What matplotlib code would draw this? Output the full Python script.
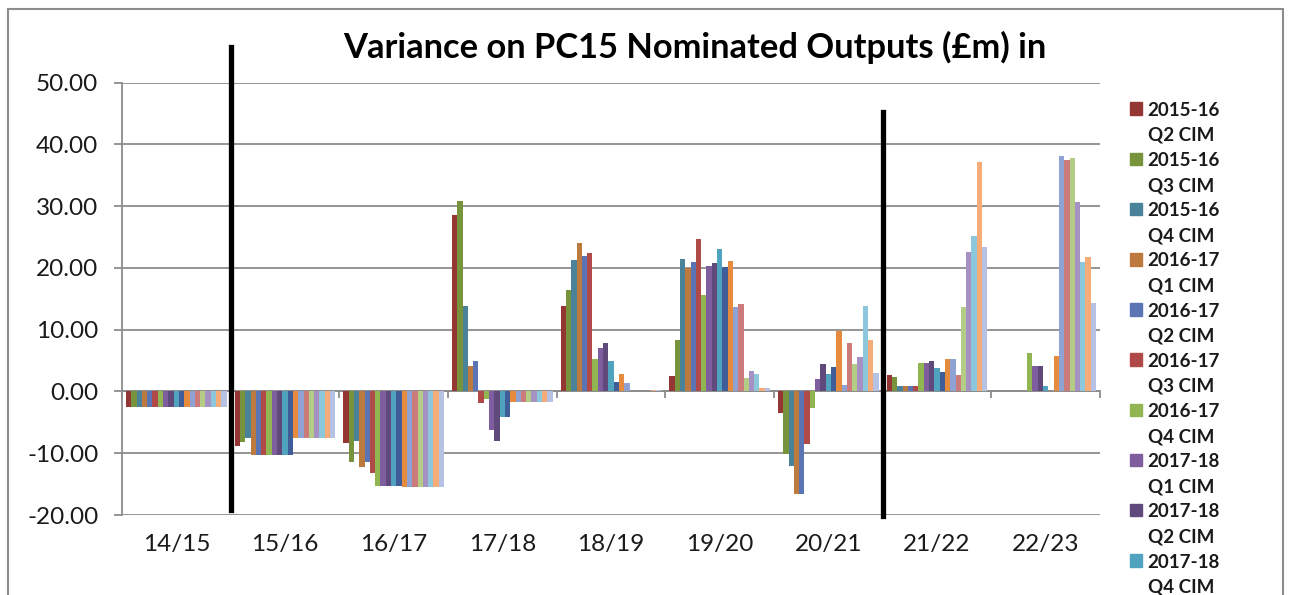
import numpy as np
import matplotlib
matplotlib.use("Agg")
import matplotlib.pyplot as plt
from matplotlib.patches import Rectangle, Patch
from matplotlib.legend_handler import HandlerPatch

plt.rcParams["font.family"] = ["Lato", "DejaVu Sans"]

categories = ["14/15", "15/16", "16/17", "17/18", "18/19", "19/20", "20/21", "21/22", "22/23"]

# only the first ten series names are readable in the legend
series_names = [
    "2015-16\nQ2 CIM", "2015-16\nQ3 CIM", "2015-16\nQ4 CIM",
    "2016-17\nQ1 CIM", "2016-17\nQ2 CIM", "2016-17\nQ3 CIM", "2016-17\nQ4 CIM",
    "2017-18\nQ1 CIM", "2017-18\nQ2 CIM", "2017-18\nQ4 CIM",
    "s11", "s12", "s13", "s14", "s15", "s16", "s17", "s18", "s19",
]

colors = [
    "#943634", "#77933C", "#4A8399", "#BD7A3E", "#5B74B3", "#B04A48", "#91B551",
    "#7E5E9E", "#604A7B", "#4FA3BF", "#3E5D99", "#E68B3E", "#8FA2D4", "#CC7B7A",
    "#B3CD86", "#A592C2", "#8DC7DB", "#F5AC78", "#B6C2E3",
]

# one row per category, one column per series
values = np.array([
    [-2.6] * 19,
    [-8.9, -8.2, -7.5, -10.3, -10.3, -10.3, -10.3, -10.3, -10.3, -10.3, -10.3,
     -7.6, -7.6, -7.6, -7.6, -7.6, -7.6, -7.6, -7.6],
    [-8.4, -11.5, -8.0, -12.2, -11.5, -13.2, -15.3, -15.3, -15.3, -15.3, -15.3,
     -15.5, -15.5, -15.5, -15.5, -15.5, -15.5, -15.5, -15.5],
    [28.5, 30.9, 13.8, 4.1, 5.0, -1.9, -1.2, -6.2, -8.0, -4.1, -4.1,
     -1.7, -1.7, -1.7, -1.7, -1.7, -1.7, -1.7, -1.7],
    [13.9, 16.4, 21.2, 24.0, 22.0, 22.4, 5.3, 7.0, 7.8, 5.0, 1.6,
     2.9, 1.3, 0.1, 0.1, 0.1, 0.1, 0.2, 0.2],
    [2.5, 8.3, 21.4, 20.0, 21.0, 24.6, 15.6, 20.3, 20.8, 23.0, 20.1,
     21.1, 13.7, 14.2, 2.2, 3.3, 2.9, 0.6, 0.5],
    [-3.5, -10.2, -12.0, -16.6, -16.6, -8.5, -2.7, 2.0, 4.5, 2.9, 4.0,
     9.7, 1.0, 7.8, 4.4, 5.5, 13.9, 8.3, 3.0],
    [2.6, 2.4, 0.8, 0.8, 0.8, 0.8, 4.6, 4.6, 4.9, 3.8, 3.1,
     5.2, 5.2, 2.6, 13.6, 22.6, 25.2, 37.2, 23.4],
    [0, 0, 0, 0, 0, 0, 6.2, 4.1, 4.1, 0.8, 0,
     5.8, 38.1, 37.5, 37.8, 30.6, 20.9, 21.8, 14.3],
])

# hand-drawn black divider lines: (x between categories, bottom, top)
dividers = [(0.5, -19.2, 55.7), (6.5, -20.1, 45.2)]

fig = plt.figure(figsize=(12.93, 5.95), dpi=100)
ax = fig.add_axes([122 / 1293, 1 - 515 / 595, (1100 - 122) / 1293, (515 - 82.5) / 595])

n = len(series_names)
w = 1 / (n + 1.5)
x = np.arange(len(categories))
for i in range(n):
    ax.bar(x + (i - (n - 1) / 2) * w, values[:, i], width=w, color=colors[i],
           label=series_names[i], linewidth=0, zorder=3)

grid_c = "#8C8C8C"
ax.set_ylim(-20, 50)
ax.set_xlim(-0.5, len(categories) - 0.5)
ax.set_yticks(np.arange(-20, 51, 10))
ax.yaxis.set_major_formatter(matplotlib.ticker.FormatStrFormatter("%.2f"))
ax.grid(True, axis="y", color=grid_c, linewidth=1.3, zorder=0)
ax.set_axisbelow(True)
for s in ["top", "right", "bottom"]:
    ax.spines[s].set_visible(False)
ax.spines["left"].set_color(grid_c)
ax.spines["left"].set_linewidth(1.3)
ax.tick_params(axis="y", direction="out", length=6, width=1.3, color=grid_c,
               labelsize=17.5, pad=11, labelcolor="#1a1a1a")
ax.set_xticks(x)
ax.set_xticklabels(categories)
ax.tick_params(axis="x", length=0, labelsize=17.5, pad=14, labelcolor="#1a1a1a")

# category axis crosses at zero
zero_ax = ax.secondary_xaxis(20 / 70)
zero_ax.set_xticks(np.arange(-0.5, len(categories), 1.0))
zero_ax.set_xticklabels([])
zero_ax.tick_params(direction="out", length=5, width=1.3, color=grid_c)
zero_ax.spines["bottom"].set_color(grid_c)
zero_ax.spines["bottom"].set_linewidth(1.3)

for dx, y0, y1 in dividers:
    ax.plot([dx, dx], [y0, y1], color="black", linewidth=3.8, clip_on=False, zorder=5)

fig.text(0.5375, 1 - 47 / 595, "Variance on PC15 Nominated Outputs (£m) in",
         ha="center", va="center", fontsize=24.8, fontweight="bold")

# chart-area frame, cut off at the bottom
fig.patches.append(Rectangle((8 / 1293, -0.1), 1275 / 1293, 1.1 - 9 / 595,
                             transform=fig.transFigure, fill=False,
                             edgecolor="#8C8C8C", linewidth=1.5))


def top_square(legend, orig_handle, xdescent, ydescent, width, height, fontsize):
    return Rectangle((-xdescent, -ydescent + 0.78 * fontsize), width, height)


handles = [Patch(color=colors[i], label=series_names[i]) for i in range(10)]
leg = fig.legend(handles=handles, loc="upper left", bbox_to_anchor=(1113 / 1293, 1 - 85 / 595),
                 frameon=False, handlelength=0.65, handleheight=0.65,
                 handletextpad=0.3, labelspacing=0.43,
                 handler_map={Patch: HandlerPatch(patch_func=top_square)},
                 prop={"weight": "bold", "size": 13.5})
for t in leg.get_texts():
    t.set_linespacing(1.58)
    t.set_color("#1a1a1a")

fig.savefig("out.png", dpi=100)
